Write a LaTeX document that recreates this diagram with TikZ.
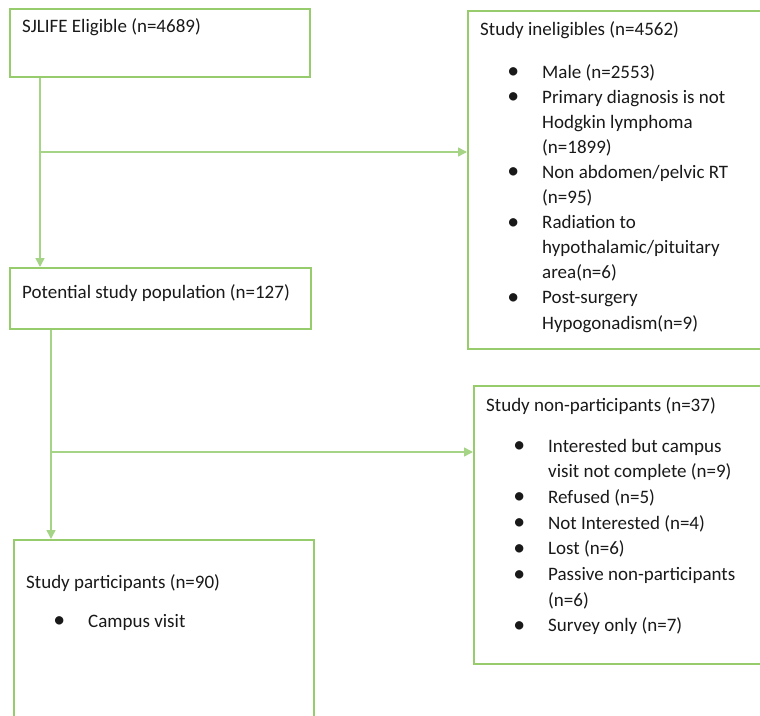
\documentclass[tikz,border=0pt]{standalone}
\usepackage{fontspec}
\setmainfont{Carlito}
\usetikzlibrary{arrows.meta}
\definecolor{boxgreen}{RGB}{150,204,108}
\definecolor{linegreen}{RGB}{165,212,135}
\definecolor{txt}{RGB}{25,25,25}
\newcommand{\bitem}{\llap{\raisebox{-0.5pt}{\scalebox{1.25}{\textbullet}}\hspace{23pt}}}
\begin{document}
\begin{tikzpicture}[x=1pt,y=-1pt,
  boxnode/.style={draw=boxgreen,line width=1.5pt,rectangle,anchor=north west,inner sep=0pt},
  txtnode/.style={anchor=base west,inner sep=0pt,text=txt,font=\fontsize{19}{25.1}\selectfont},
  connector/.style={draw=linegreen,line width=1.5pt},
  arrowline/.style={connector,-{Triangle[length=9pt,width=9pt]}}]
\useasboundingbox (0,0) rectangle (760,715);
% boxes
\node[boxnode,minimum width=300pt,minimum height=68pt] (b1) at (9,8) {};
\node[boxnode,minimum width=310pt,minimum height=338pt] (b2) at (467,10) {};
\node[boxnode,minimum width=301pt,minimum height=61pt] (b3) at (9,267) {};
\node[boxnode,minimum width=300pt,minimum height=278pt] (b4) at (473,385) {};
\node[boxnode,minimum width=300pt,minimum height=200pt] (b5) at (13,539) {};
% texts
\node[txtnode] (t1) at (22,32) {SJLIFE Eligible (n=4689)};
\node[txtnode] (t2) at (480,35) {Study ineligibles (n=4562)};
\node[txtnode] (l2) at (542,78) {\begin{tabular}[t]{@{}l@{}}
\bitem Male (n=2553)\\
\bitem Primary diagnosis is not\\
Hodgkin lymphoma\\
(n=1899)\\
\bitem Non abdomen/pelvic RT\\
(n=95)\\
\bitem Radiation to\\
hypothalamic/pituitary\\
area(n=6)\\
\bitem Post-surgery\\
Hypogonadism(n=9)
\end{tabular}};
\node[txtnode] (t3) at (22,298) {Potential study population (n=127)};
\node[txtnode] (t4) at (486,411) {Study non-participants (n=37)};
\node[txtnode,font=\fontsize{19}{25.7}\selectfont] (l4) at (548,452) {\begin{tabular}[t]{@{}l@{}}
\bitem Interested but campus\\
visit not complete (n=9)\\
\bitem Refused (n=5)\\
\bitem Not Interested (n=4)\\
\bitem Lost (n=6)\\
\bitem Passive non-participants\\
(n=6)\\
\bitem Survey only (n=7)
\end{tabular}};
\node[txtnode] (t5) at (26,588) {Study participants (n=90)};
\node[txtnode] (l5) at (88,627) {\bitem Campus visit};
% connectors
\coordinate (j1) at (40,152);
\coordinate (j2) at (51,452);
\draw[arrowline] (b1.south -| j1) -- (b3.north -| j1);
\draw[arrowline] (j1) -- (b2.west |- j1);
\draw[arrowline] (b3.south -| j2) -- (b5.north -| j2);
\draw[arrowline] (j2) -- (b4.west |- j2);
\end{tikzpicture}
\end{document}
